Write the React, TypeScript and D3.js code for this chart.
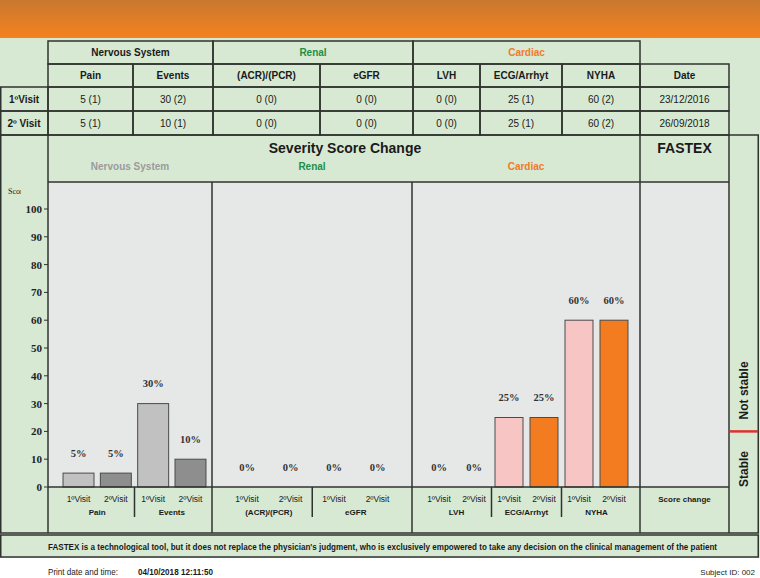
import React from "react";
import * as d3 from "d3";

// ---------- data ----------
const groups = ["Nervous System", "Renal", "Cardiac"];
const categories = ["Pain", "Events", "(ACR)/(PCR)", "eGFR", "LVH", "ECG/Arrhyt", "NYHA"];
const categoryGroup = [0, 0, 1, 1, 2, 2, 2];
const visitLabels = ["1ºVisit", "2ºVisit"];
const visitRowLabels = ["1ºVisit", "2º Visit"];
const visit1Score = [5, 30, 0, 0, 0, 25, 60];
const visit2Score = [5, 10, 0, 0, 0, 25, 60];
const visit1Level = [1, 2, 0, 0, 0, 1, 2];
const visit2Level = [1, 1, 0, 0, 0, 1, 2];
const visitDates = ["23/12/2016", "26/09/2018"];
const yTicks = [0, 10, 20, 30, 40, 50, 60, 70, 80, 90, 100];
const stableThreshold = 20;
const fastexColumnLabel = "Score change";
const disclaimer =
  "FASTEX is a technological tool, but it does not replace the physician's judgment, who is exclusively empowered to take any decision on the clinical management of the patient";
const printDate = "04/10/2018 12:11:50";
const subjectId = "Subject ID: 002";

// ---------- styles / layout ----------
const SANS = "'Liberation Sans', Arial, Helvetica, sans-serif";
const SERIF = "'Liberation Serif', 'Times New Roman', serif";
const GREEN = "#d7e9d3";
const PLOT_BG = "#e6e8e7";
const LINE = "#2f332f";
const groupTitleColors = ["#9b9b9b", "#1f8f45", "#f07a26"];
const groupHeadColors = ["#1a1a1a", "#1f8f45", "#f07a26"];
const barFills = [
  ["#c2c1c1", "#8f8e8e"],
  ["#c2c1c1", "#8f8e8e"],
  ["#f8c5c5", "#f47c20"],
];
const groupBounds = [
  [48, 212],
  [212, 412],
  [412, 640],
];
const groupBandRange = [
  [59.85, 209.15],
  [225.25, 399.25],
  [421.5, 631.5],
];
const groupPadInner = [0.17, 0.17, 0.2];
const tableCols = [48, 133, 213, 320, 413, 480, 562, 640, 729];
const tableGroupCols = [48, 213, 413, 640];
const tableRows = [41, 64, 87, 111, 135];

const PLOT_TOP = 182;
const PLOT_BOTTOM = 487;
const FRAME_BOTTOM = 533;

export default function App() {
  const y = d3.scaleLinear().domain([0, 100]).range([487, 209]);

  const scales = groups.map((g, gi) => {
    const keys: string[] = [];
    categories.forEach((c, ci) => {
      if (categoryGroup[ci] === gi) visitLabels.forEach((_, v) => keys.push(`${ci}|${v}`));
    });
    const pi = groupPadInner[gi];
    return d3
      .scaleBand<string>()
      .domain(keys)
      .range(groupBandRange[gi] as [number, number])
      .paddingInner(pi)
      .paddingOuter(pi / 2);
  });

  const bars: any[] = [];
  categories.forEach((c, ci) => {
    const gi = categoryGroup[ci];
    const sc = scales[gi];
    [visit1Score[ci], visit2Score[ci]].forEach((val, v) => {
      const key = `${ci}|${v}`;
      bars.push({ ci, gi, v, val, x: sc(key)!, w: sc.bandwidth(), step: sc.step() });
    });
  });

  const tableVals = [visit1Score.map((s, i) => `${s} (${visit1Level[i]})`), visit2Score.map((s, i) => `${s} (${visit2Level[i]})`)];

  const cellText = (x: number, yy: number, t: string, opts: any = {}) => (
    <text
      x={x}
      y={yy}
      textAnchor="middle"
      dominantBaseline="central"
      fontFamily={SANS}
      fontSize={opts.size ?? 10}
      fontWeight={opts.bold ? "bold" : "normal"}
      fill={opts.fill ?? "#1a1a1a"}
    >
      {t}
    </text>
  );

  return (
    <svg
      width={760}
      height={578}
      style={{ position: "fixed", left: 0, top: 0, background: "#fff" }}
    >
      <defs>
        <linearGradient id="hdr" x1="0" y1="0" x2="0" y2="1">
          <stop offset="0%" stopColor="#c7782f" />
          <stop offset="100%" stopColor="#f6821f" />
        </linearGradient>
        <clipPath id="scClip">
          <rect x={0} y={180} width={21} height={20} />
        </clipPath>
      </defs>
      <rect x={0} y={0} width={760} height={38} fill="url(#hdr)" />
      <rect x={0} y={38} width={760} height={520} fill={GREEN} />

      {/* ---------- table ---------- */}
      <g stroke={LINE} strokeWidth={1.5} fill="none">
        {groups.map((g, gi) => (
          <rect key={g} x={tableGroupCols[gi]} y={tableRows[0]} width={tableGroupCols[gi + 1] - tableGroupCols[gi]} height={tableRows[1] - tableRows[0]} />
        ))}
        {[1, 2, 3].map((r) => (
          <g key={r}>
            {categories.map((c, ci) => (
              <rect key={c} x={tableCols[ci]} y={tableRows[r]} width={tableCols[ci + 1] - tableCols[ci]} height={tableRows[r + 1] - tableRows[r]} />
            ))}
            <rect x={640} y={tableRows[r]} width={89} height={tableRows[r + 1] - tableRows[r]} />
            {r >= 2 && <rect x={0.75} y={tableRows[r]} width={47.25} height={tableRows[r + 1] - tableRows[r]} />}
          </g>
        ))}
      </g>
      {groups.map((g, gi) =>
        <g key={g}>{cellText((tableGroupCols[gi] + tableGroupCols[gi + 1]) / 2, 52.5, g, { bold: true, fill: groupHeadColors[gi] })}</g>
      )}
      {categories.map((c, ci) => (
        <g key={c}>
          {cellText((tableCols[ci] + tableCols[ci + 1]) / 2, 75.5, c, { bold: true })}
          {cellText((tableCols[ci] + tableCols[ci + 1]) / 2, 99, tableVals[0][ci])}
          {cellText((tableCols[ci] + tableCols[ci + 1]) / 2, 123, tableVals[1][ci])}
        </g>
      ))}
      {cellText(684.5, 75.5, "Date", { bold: true })}
      {cellText(684.5, 99, visitDates[0])}
      {cellText(684.5, 123, visitDates[1])}
      {cellText(24, 99, visitRowLabels[0], { bold: true })}
      {cellText(24, 123, visitRowLabels[1], { bold: true })}

      {/* ---------- chart ---------- */}
      <rect x={48} y={PLOT_TOP} width={681} height={PLOT_BOTTOM - PLOT_TOP} fill={PLOT_BG} />
      <text x={345} y={148} textAnchor="middle" dominantBaseline="central" fontFamily={SANS} fontSize={14} fontWeight="bold" fill="#1a1a1a">
        Severity Score Change
      </text>
      <text x={684.5} y={148} textAnchor="middle" dominantBaseline="central" fontFamily={SANS} fontSize={14} fontWeight="bold" fill="#1a1a1a">
        FASTEX
      </text>
      {groups.map((g, gi) => (
        <text key={g} x={(groupBounds[gi][0] + groupBounds[gi][1]) / 2} y={166} textAnchor="middle" dominantBaseline="central" fontFamily={SANS} fontSize={10} fontWeight="bold" fill={groupTitleColors[gi]}>
          {g}
        </text>
      ))}
      <text x={8} y={191} dominantBaseline="central" fontFamily={SERIF} fontSize={8} fill="#222" clipPath="url(#scClip)">
        Score
      </text>

      {/* y axis */}
      {yTicks.map((t) => (
        <g key={t}>
          <line x1={44} x2={48} y1={y(t)} y2={y(t)} stroke={LINE} strokeWidth={1} />
          <text x={42} y={y(t)} textAnchor="end" dominantBaseline="central" fontFamily={SERIF} fontSize={11} fontWeight="bold" fill="#222">
            {t}
          </text>
        </g>
      ))}

      {/* bars */}
      {bars.map((b) => (
        <g key={`${b.ci}-${b.v}`}>
          {b.val > 0 && (
            <rect x={b.x} y={y(b.val)} width={b.w} height={y(0) - y(b.val)} fill={barFills[b.gi][b.v]} stroke="#4a4a4a" strokeWidth={1} />
          )}
          <text x={b.x + b.w / 2} y={y(b.val) - 20} textAnchor="middle" dominantBaseline="central" fontFamily={SERIF} fontSize={10.5} fontWeight="bold" fill="#333">
            {b.val}%
          </text>
          <text x={b.x + b.w / 2} y={499} textAnchor="middle" dominantBaseline="central" fontFamily={SANS} fontSize={8.5} fill="#1a1a1a">
            {visitLabels[b.v]}
          </text>
        </g>
      ))}
      {categories.map((c, ci) => {
        const gi = categoryGroup[ci];
        const sc = scales[gi];
        const x0 = sc(`${ci}|0`)!;
        const x1 = sc(`${ci}|1`)! + sc.bandwidth();
        const isFirst = ci === 0 || categoryGroup[ci - 1] !== gi;
        const divX = x0 - (sc.step() * sc.paddingInner()) / 2;
        return (
          <g key={c}>
            <text x={(x0 + x1) / 2} y={512} textAnchor="middle" dominantBaseline="central" fontFamily={SANS} fontSize={8} fontWeight="bold" fill="#1a1a1a">
              {c}
            </text>
            {!isFirst && <line x1={divX} x2={divX} y1={PLOT_BOTTOM} y2={517} stroke={LINE} strokeWidth={1.5} />}
          </g>
        );
      })}
      <text x={684.5} y={499} textAnchor="middle" dominantBaseline="central" fontFamily={SANS} fontSize={8} fontWeight="bold" fill="#1a1a1a">
        {fastexColumnLabel}
      </text>

      {/* frame lines */}
      <g stroke={LINE} strokeWidth={1.5} fill="none">
        <rect x={0.75} y={135} width={757.5} height={FRAME_BOTTOM - 135} />
        <line x1={48} x2={48} y1={135} y2={FRAME_BOTTOM} />
        <line x1={48} x2={729} y1={PLOT_TOP} y2={PLOT_TOP} />
        <line x1={48} x2={729} y1={PLOT_BOTTOM} y2={PLOT_BOTTOM} />
        <line x1={groupBounds[0][1]} x2={groupBounds[0][1]} y1={PLOT_TOP} y2={FRAME_BOTTOM} />
        <line x1={groupBounds[1][1]} x2={groupBounds[1][1]} y1={PLOT_TOP} y2={FRAME_BOTTOM} />
        <line x1={640} x2={640} y1={135} y2={FRAME_BOTTOM} />
        <line x1={729} x2={729} y1={135} y2={FRAME_BOTTOM} />
      </g>

      {/* stability column */}
      <line x1={729.5} x2={758} y1={y(stableThreshold)} y2={y(stableThreshold)} stroke="#e0302f" strokeWidth={2.5} />
      <text transform={`translate(747.5, ${y(stableThreshold) - 12}) rotate(-90)`} fontFamily={SANS} fontSize={12} fontWeight="bold" fill="#1a1a1a">
        Not stable
      </text>
      <text transform={`translate(747.5, ${y(0)}) rotate(-90)`} fontFamily={SANS} fontSize={12} fontWeight="bold" fill="#1a1a1a">
        Stable
      </text>

      {/* disclaimer */}
      <rect x={0.75} y={535} width={757.5} height={22} fill={GREEN} stroke={LINE} strokeWidth={1.5} />
      <text x={48} y={546.5} dominantBaseline="central" fontFamily={SANS} fontSize={8.5} fontWeight="bold" fill="#1a1a1a" textLength={669} lengthAdjust="spacingAndGlyphs">
        {disclaimer}
      </text>

      {/* footer */}
      <rect x={0} y={558} width={760} height={20} fill="#fff" />
      <text x={48} y={572} dominantBaseline="central" fontFamily={SANS} fontSize={8.5} fill="#1a1a1a" textLength={70} lengthAdjust="spacingAndGlyphs">
        Print date and time:
      </text>
      <text x={138} y={572} dominantBaseline="central" fontFamily={SANS} fontSize={8.5} fontWeight="bold" fill="#1a1a1a" textLength={75} lengthAdjust="spacingAndGlyphs">
        {printDate}
      </text>
      <text x={755} y={572} textAnchor="end" dominantBaseline="central" fontFamily={SANS} fontSize={8} fill="#1a1a1a">
        {subjectId}
      </text>
    </svg>
  );
}
